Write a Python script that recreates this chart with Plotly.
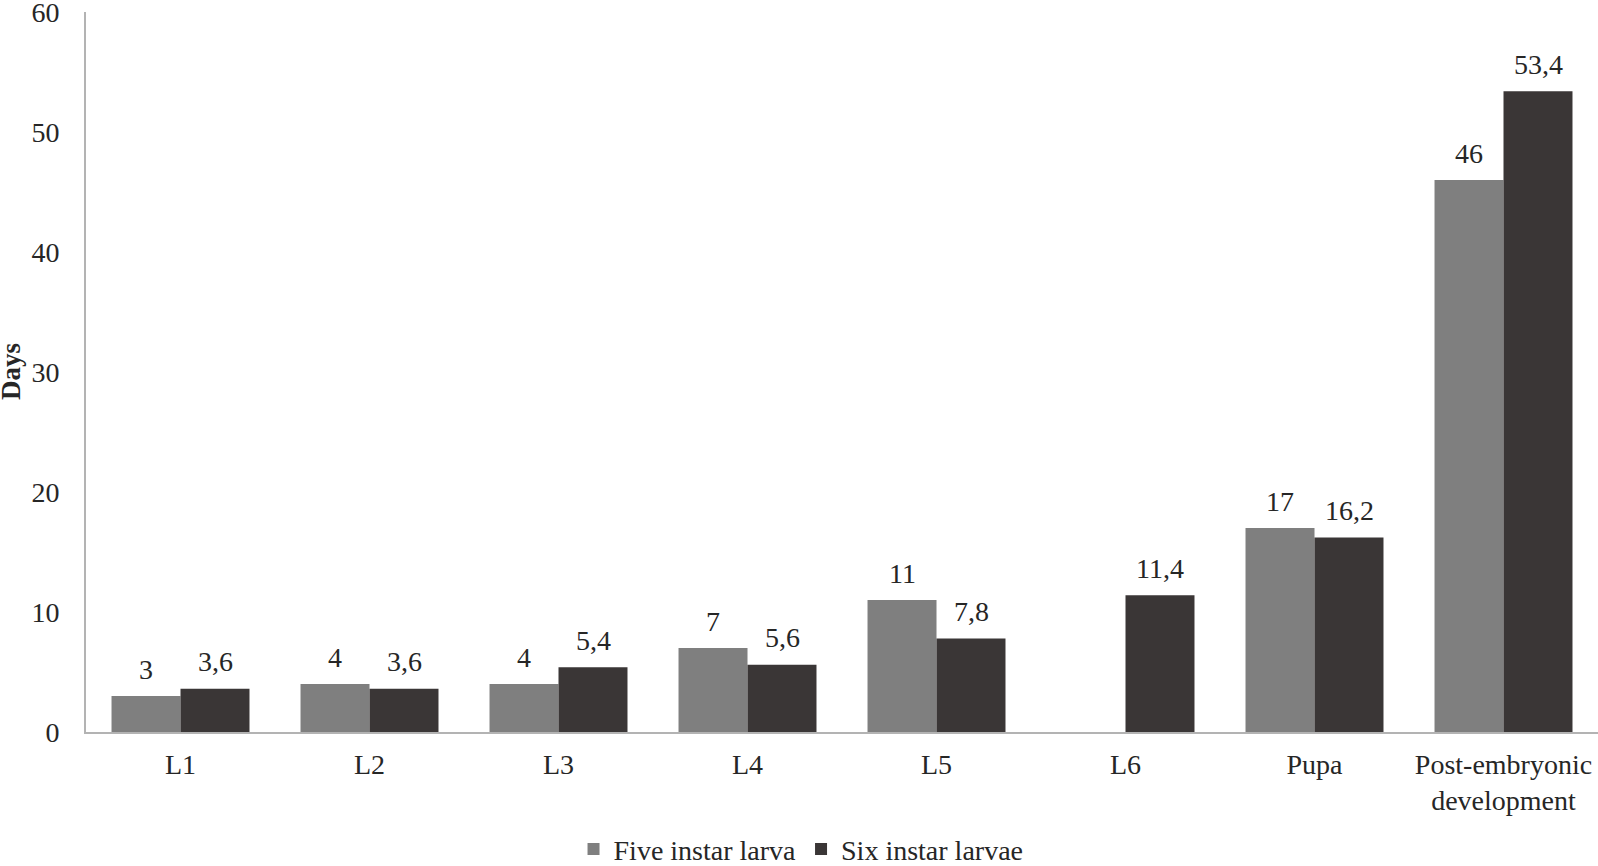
import plotly.graph_objects as go

categories = ["L1", "L2", "L3", "L4", "L5", "L6", "Pupa", "Post-embryonic<br>development"]
five_instar = [3, 4, 4, 7, 11, None, 17, 46]
six_instar = [3.6, 3.6, 5.4, 5.6, 7.8, 11.4, 16.2, 53.4]
y_ticks = [0, 10, 20, 30, 40, 50, 60]

def fmt(v):
    return "" if v is None else ("%g" % v).replace(".", ",")

FONT = "Liberation Serif"
TXT = "#262626"
FS = 28
BARW = 34.5  # half-bar pixel offset for labels

fig = go.Figure()
fig.add_trace(go.Bar(name="Five instar larva", x=categories, y=five_instar,
                     marker=dict(color="#7f7f7f", line=dict(width=0))))
fig.add_trace(go.Bar(name="Six instar larvae", x=categories, y=six_instar,
                     marker=dict(color="#3a3636", line=dict(width=0))))

for vals, shift in ((five_instar, -BARW), (six_instar, BARW)):
    for c, v in zip(categories, vals):
        if v is None:
            continue
        fig.add_annotation(x=c, y=v, xref="x", yref="y", text=fmt(v), showarrow=False,
                           xshift=shift, yshift=27, yanchor="middle",
                           font=dict(family=FONT, size=FS, color=TXT))

fig.add_annotation(text="<b>Days</b>", xref="paper", yref="paper",
                   x=-75 / 1512, y=0.5, textangle=-90, showarrow=False,
                   xanchor="center", yanchor="middle",
                   font=dict(family=FONT, size=27, color=TXT))

fig.update_layout(
    width=1598, height=866,
    paper_bgcolor="white", plot_bgcolor="white",
    barmode="group", bargap=0.27, bargroupgap=0,
    margin=dict(l=86, r=0, t=12, b=134, autoexpand=False),
    font=dict(family=FONT, size=FS, color=TXT),
    xaxis=dict(showgrid=False, showline=True, linecolor="#b3b3b3", linewidth=2,
               ticks="", automargin=False, ticklabelstandoff=6,
               tickfont=dict(family=FONT, size=FS, color=TXT)),
    yaxis=dict(range=[0, 60], tickvals=y_ticks, showgrid=False, showline=True,
               linecolor="#b3b3b3", linewidth=2, ticks="", zeroline=False,
               automargin=False, ticklabelstandoff=19, ticklabeloverflow="allow",
               tickfont=dict(family=FONT, size=FS, color=TXT)),
    legend=dict(orientation="h", x=0.4729, xanchor="center", y=-0.163, yanchor="middle",
                font=dict(family=FONT, size=FS, color=TXT), itemwidth=30),
)

fig.write_html("out.html", config={"displayModeBar": False},
               post_script="document.body.style.margin='0';document.body.style.overflow='hidden';")
